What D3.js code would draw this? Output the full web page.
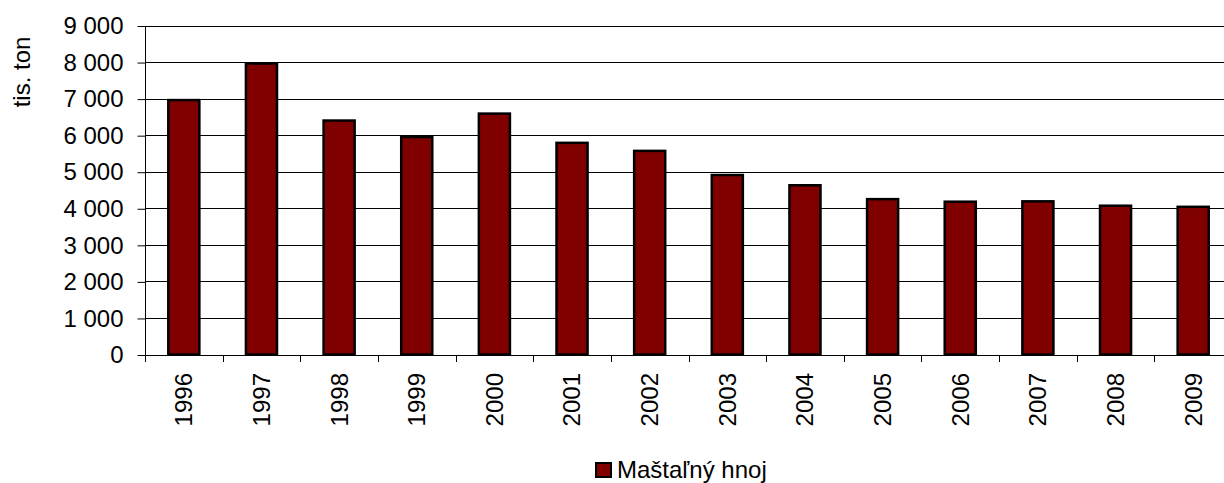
<!DOCTYPE html>
<html>
<head>
<meta charset="utf-8">
<script src="https://cdn.jsdelivr.net/npm/d3@7"></script>
<style>
  html, body { margin: 0; padding: 0; background: #fff; }
  svg { display: block; font-family: Arial, "Liberation Sans", sans-serif; }
</style>
</head>
<body>
<svg id="chart" width="1224" height="483"></svg>
<script>
// Annual production of farmyard manure (thousand tonnes)
const years = ["1996","1997","1998","1999","2000","2001","2002","2003","2004","2005","2006","2007","2008","2009"];
const manure = [6960, 7960, 6400, 5950, 6590, 5790, 5570, 4910, 4630, 4250, 4180, 4190, 4070, 4040];
const yTicks = [0, 1000, 2000, 3000, 4000, 5000, 6000, 7000, 8000, 9000];
const seriesName = "Maštaľný hnoj";
const yTitle = "tis. ton";

const svg = d3.select("#chart");
const plotLeft = 145, plotRight = 1232, plotTop = 25.5, plotBottom = 354.5;

const x = d3.scaleBand().domain(years).range([plotLeft, plotRight])
  .paddingInner(0.6).paddingOuter(0.3);
const y = d3.scaleLinear().domain([0, 9000]).range([plotBottom, plotTop]);

const fmt = d => d3.format(",")(d).replace(/,/g, " ");

// horizontal gridlines
svg.append("g").selectAll("line").data(yTicks.filter(d => d > 0)).join("line")
  .attr("x1", plotLeft).attr("x2", plotRight)
  .attr("y1", d => Math.round(y(d)) + 0.5).attr("y2", d => Math.round(y(d)) + 0.5)
  .attr("stroke", "#000").attr("stroke-width", 1);

// bars
svg.append("g").selectAll("rect").data(years).join("rect")
  .attr("x", d => x(d))
  .attr("y", (d, i) => y(manure[i]))
  .attr("width", x.bandwidth())
  .attr("height", (d, i) => y(0) - y(manure[i]))
  .attr("fill", "#800000")
  .attr("stroke", "#000")
  .attr("stroke-width", 2.5);

// y axis
const yAxis = d3.axisLeft(y).tickValues(yTicks).tickFormat(fmt).tickSize(8).tickPadding(14);
const gy = svg.append("g").attr("transform", `translate(${plotLeft + 0.5},0.5)`).call(yAxis);
gy.select(".domain").attr("d", `M0,${plotTop}V${plotBottom + 7}`).attr("stroke", "#000");
gy.selectAll(".tick line").attr("stroke", "#000");
gy.selectAll("text").attr("font-size", 24).attr("fill", "#000")
  .attr("font-family", "Arial, 'Liberation Sans', sans-serif");

// x axis baseline and category boundary ticks
svg.append("line").attr("x1", plotLeft).attr("x2", plotRight)
  .attr("y1", Math.round(plotBottom) + 0.5).attr("y2", Math.round(plotBottom) + 0.5)
  .attr("stroke", "#000");
const step = x.step();
svg.append("g").selectAll("line").data(d3.range(years.length + 1)).join("line")
  .attr("x1", i => Math.round(plotLeft + i * step) + 0.5)
  .attr("x2", i => Math.round(plotLeft + i * step) + 0.5)
  .attr("y1", Math.round(plotBottom)).attr("y2", Math.round(plotBottom) + 7)
  .attr("stroke", "#000");

// year labels, rotated
svg.append("g").selectAll("text").data(years).join("text")
  .attr("transform", d => `translate(${x(d) + x.bandwidth() / 2},373) rotate(-90)`)
  .attr("text-anchor", "end").attr("dy", "0.35em")
  .attr("font-size", 24).attr("fill", "#000")
  .text(d => d);

// y axis title
svg.append("text")
  .attr("transform", "translate(22,72) rotate(-90)")
  .attr("text-anchor", "middle").attr("dy", "0.35em")
  .attr("font-size", 24).attr("fill", "#000")
  .text(yTitle);

// legend
const lg = svg.append("g");
lg.append("rect").attr("x", 596).attr("y", 463).attr("width", 15).attr("height", 14)
  .attr("fill", "#800000").attr("stroke", "#000").attr("stroke-width", 2);
lg.append("text").attr("x", 617).attr("y", 478)
  .attr("font-size", 24).attr("fill", "#000").text(seriesName);
</script>
</body>
</html>
